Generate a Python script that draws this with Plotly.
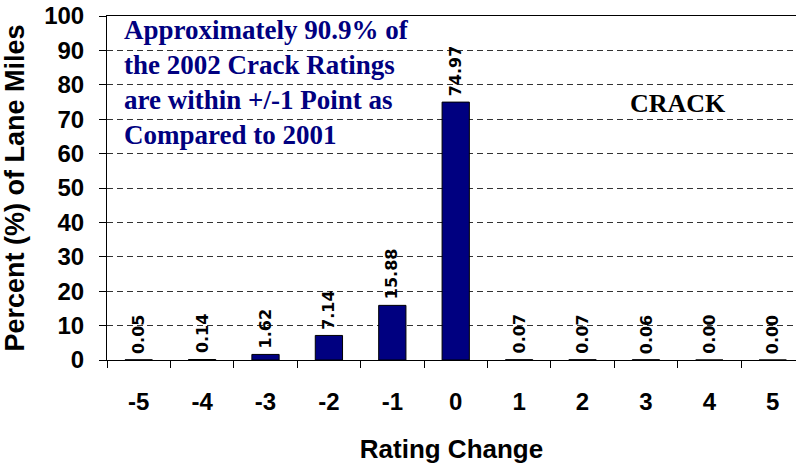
import plotly.graph_objects as go

# Rating change categories and share of lane miles (%)
categories = ["-5", "-4", "-3", "-2", "-1", "0", "1", "2", "3", "4", "5"]
percent = [0.05, 0.14, 1.62, 7.14, 15.88, 74.97, 0.07, 0.07, 0.06, 0.00, 0.00]
y_ticks = list(range(0, 101, 10))

note_text = ("Approximately 90.9% of<br>the 2002 Crack Ratings<br>"
             "are within +/-1 Point as<br>Compared to 2001")
panel_label = "CRACK"

SANS = "Liberation Sans, Arial, sans-serif"
SERIF = "Liberation Serif, Times New Roman, serif"
NAVY = "#000080"

fig = go.Figure()
fig.add_trace(go.Bar(
    x=categories,
    y=percent,
    width=0.43,
    marker=dict(color=NAVY, line=dict(color="black", width=1)),
    hoverinfo="x+y",
))

# Value labels above each bar, rotated (category axis positions are indices)
for idx, val in enumerate(percent):
    fig.add_annotation(
        x=idx, y=val, xref="x", yref="y",
        text=f"<b>{val:.2f}</b>", showarrow=False,
        textangle=-90, xanchor="center", yanchor="bottom", yshift=4,
        font=dict(family="DejaVu Sans, sans-serif", size=16, color="black"),
    )

fig.add_annotation(
    x=(122 - 107) / 689, y=1.0, xref="paper", yref="paper",
    xanchor="left", yanchor="top", align="left", showarrow=False,
    yshift=3,
    text=f"<b>{note_text}</b>",
    font=dict(family=SERIF, size=27, color=NAVY),
)
fig.add_annotation(
    x=(678 - 107) / 689, y=74.5, xref="paper", yref="y",
    xanchor="center", yanchor="middle", showarrow=False,
    text=f"<b>{panel_label}</b>",
    font=dict(family=SERIF, size=26, color="black"),
)

fig.update_layout(
    width=796, height=465,
    margin=dict(l=107, r=0, t=16, b=105),
    paper_bgcolor="white", plot_bgcolor="white",
    showlegend=False,
    bargap=0.57,
)
fig.update_xaxes(
    type="category",
    range=[-0.5, 10.367],
    tickson="boundaries",
    ticks="outside", ticklen=7, tickcolor="black", tickwidth=1,
    showline=True, linecolor="black", linewidth=1, mirror=True,
    showgrid=False,
    tickfont=dict(family=SANS, size=24, color="black", weight="bold"),
    ticklabelstandoff=20,
    title=dict(text="Rating Change", standoff=26,
               font=dict(family=SANS, size=26, color="black", weight="bold")),
)
fig.update_yaxes(
    range=[0, 100],
    tickvals=y_ticks,
    ticks="outside", ticklen=7, tickcolor="black", tickwidth=1,
    showline=True, linecolor="black", linewidth=1,
    showgrid=True, gridcolor="#333333", gridwidth=1, griddash="6px,4px",
    zeroline=False,
    tickfont=dict(family=SANS, size=24, color="black", weight="bold"),
    ticklabelstandoff=10,
    title=dict(text="Percent (%) of Lane Miles", standoff=12,
               font=dict(family=SANS, size=27, color="black", weight="bold")),
)

fig.write_html("out.html")
